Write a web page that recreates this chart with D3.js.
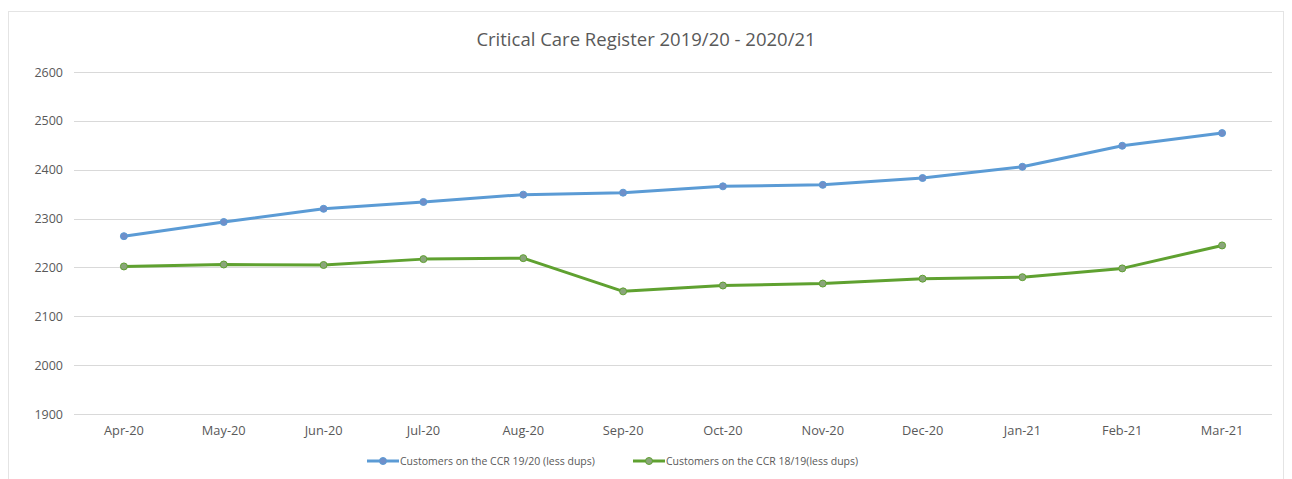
<!DOCTYPE html>
<html>
<head>
<meta charset="utf-8" />
<title>Critical Care Register</title>
<script src="https://d3js.org/d3.v7.min.js"></script>
<style>
  body { margin: 0; background: #fff; }
  text { font-family: "Open Sans", sans-serif; fill: #595959; }
</style>
</head>
<body>
<svg id="chart" width="1292" height="479"></svg>
<script>
var months = ["Apr-20", "May-20", "Jun-20", "Jul-20", "Aug-20", "Sep-20", "Oct-20", "Nov-20", "Dec-20", "Jan-21", "Feb-21", "Mar-21"];
var ccr1920 = [2264, 2293, 2320, 2334, 2349, 2353, 2366, 2369, 2383, 2406, 2449, 2475];
var ccr1819 = [2202, 2206, 2205, 2217, 2219, 2151, 2163, 2167, 2177, 2180, 2198, 2245];
var yTicks = [1900, 2000, 2100, 2200, 2300, 2400, 2500, 2600];

var series = [
  { name: "Customers on the CCR 19/20 (less dups)", values: ccr1920, color: "#5b9bd5", marker: "#6f8fc9" },
  { name: "Customers on the CCR 18/19(less dups)", values: ccr1819, color: "#5fa130", marker: "#8aa57a" }
];

var svg = d3.select("#chart");

// chart frame
svg.append("rect")
  .attr("x", 8.5).attr("y", 11.5)
  .attr("width", 1275).attr("height", 470)
  .attr("fill", "#fff")
  .attr("stroke", "#e4e4e4");

var x = d3.scaleBand().domain(months).range([74, 1272]);
var y = d3.scaleLinear().domain([1900, 2600]).range([414, 72]);

// gridlines
svg.append("g")
  .selectAll("line")
  .data(yTicks)
  .enter().append("line")
  .attr("x1", 74).attr("x2", 1272)
  .attr("y1", function (d) { return Math.round(y(d)) + 0.5; })
  .attr("y2", function (d) { return Math.round(y(d)) + 0.5; })
  .attr("stroke", "#d9d9d9")
  .attr("stroke-width", 1);

// y axis labels
var yAxis = d3.axisLeft(y).tickValues(yTicks).tickFormat(d3.format("d")).tickSize(0).tickPadding(11);
var gy = svg.append("g").attr("transform", "translate(74,0)").call(yAxis);
gy.select(".domain").remove();
gy.selectAll("text").style("font-size", "12.5px").attr("fill", "#595959");

// x axis labels
var xAxis = d3.axisBottom(x).tickSize(0).tickPadding(12);
var gx = svg.append("g").attr("transform", "translate(0,414)").call(xAxis);
gx.select(".domain").remove();
gx.selectAll("text").style("font-size", "12.8px").attr("fill", "#595959");

// title
svg.append("text")
  .attr("x", 646).attr("y", 46)
  .attr("text-anchor", "middle")
  .style("font-size", "18.5px")
  .text("Critical Care Register 2019/20 - 2020/21");

var line = d3.line()
  .x(function (d, i) { return x(months[i]) + x.bandwidth() / 2; })
  .y(function (d) { return y(d); });

series.forEach(function (s) {
  var g = svg.append("g");
  g.append("path")
    .datum(s.values)
    .attr("d", line)
    .attr("fill", "none")
    .attr("stroke", s.color)
    .attr("stroke-width", 3)
    .attr("stroke-linejoin", "round");
  g.selectAll("circle")
    .data(s.values)
    .enter().append("circle")
    .attr("cx", function (d, i) { return x(months[i]) + x.bandwidth() / 2; })
    .attr("cy", function (d) { return y(d); })
    .attr("r", 3.5)
    .attr("fill", s.marker)
    .attr("stroke", s.color)
    .attr("stroke-width", 1);
});

// legend
var legendX = [367, 633];
series.forEach(function (s, i) {
  var lg = svg.append("g").attr("transform", "translate(" + legendX[i] + ",461)");
  lg.append("line")
    .attr("x1", 0).attr("x2", 32)
    .attr("stroke", s.color).attr("stroke-width", 3);
  lg.append("circle")
    .attr("cx", 16).attr("r", 3.5)
    .attr("fill", s.marker).attr("stroke", s.color);
  lg.append("text")
    .attr("x", 33).attr("y", 4)
    .style("font-size", "10.5px")
    .text(s.name);
});
</script>
</body>
</html>
